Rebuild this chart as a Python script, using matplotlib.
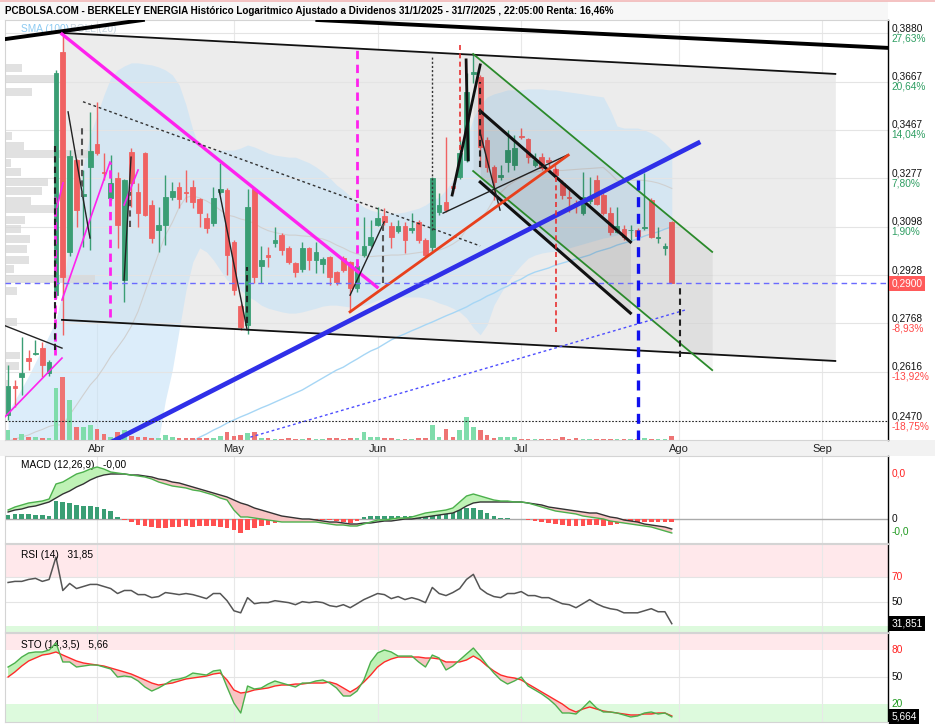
import numpy as np
import matplotlib
matplotlib.use('Agg')
import matplotlib.pyplot as plt
import matplotlib.transforms as mtrans
from matplotlib.patches import Rectangle
from matplotlib.lines import Line2D

plt.rcParams['font.family'] = ['Liberation Sans Narrow', 'Liberation Sans', 'DejaVu Sans']

# ---------------- datos (sesiones 13/3/2025 .. 31/7/2025) ----------------
open_p = [0.2487, 0.2573, 0.2600, 0.2658, 0.2670, 0.2689, 0.2612, 0.2860, 0.3797, 0.3009,
          0.3348, 0.3210, 0.3321, 0.3411, 0.3302, 0.3202, 0.3279, 0.2911, 0.3379, 0.3225,
          0.3375, 0.3177, 0.3086, 0.3104, 0.3206, 0.3244, 0.3225, 0.3244, 0.3199, 0.3129,
          0.3111, 0.3225, 0.3233, 0.3043, 0.2824, 0.2763, 0.3237, 0.2959, 0.2997, 0.3039,
          0.3068, 0.3022, 0.2969, 0.2948, 0.3022, 0.2980, 0.2966, 0.2990, 0.2938, 0.2986,
          0.2973, 0.2884, 0.2997, 0.3032, 0.3104, 0.3136, 0.3100, 0.3082, 0.3100, 0.3086,
          0.3115, 0.3050, 0.3025, 0.3151, 0.3188, 0.3248, 0.3282, 0.3348, 0.3701, 0.3686,
          0.3427, 0.3321, 0.3283, 0.3340, 0.3329, 0.3443, 0.3431, 0.3329, 0.3360, 0.3348,
          0.3313, 0.3260, 0.3206, 0.3184, 0.3147, 0.3192, 0.3271, 0.3214, 0.3147, 0.3079,
          0.3089, 0.3084, 0.3086, 0.3093, 0.3195, 0.3057, 0.3022, 0.3115]
high_p = [0.2637, 0.2591, 0.2725, 0.2683, 0.2715, 0.2708, 0.2652, 0.3720, 0.3870, 0.3387,
          0.3352, 0.3309, 0.3541, 0.3583, 0.3375, 0.3367, 0.3302, 0.3275, 0.3395, 0.3260,
          0.3380, 0.3195, 0.3169, 0.3290, 0.3263, 0.3263, 0.3309, 0.3271, 0.3203, 0.3147,
          0.3244, 0.3336, 0.3240, 0.3050, 0.2830, 0.3237, 0.3240, 0.3029, 0.3025, 0.3097,
          0.3075, 0.3030, 0.2973, 0.3043, 0.3025, 0.3043, 0.2990, 0.2993, 0.2942, 0.2995,
          0.2976, 0.2975, 0.3133, 0.3122, 0.3169, 0.3165, 0.3115, 0.3122, 0.3115, 0.3147,
          0.3122, 0.3057, 0.3283, 0.3221, 0.3439, 0.3260, 0.3427, 0.3707, 0.3784, 0.3697,
          0.3440, 0.3330, 0.3329, 0.3467, 0.3447, 0.3475, 0.3435, 0.3375, 0.3375, 0.3360,
          0.3329, 0.3271, 0.3233, 0.3195, 0.3302, 0.3283, 0.3290, 0.3220, 0.3169, 0.3169,
          0.3104, 0.3104, 0.3093, 0.3298, 0.3203, 0.3097, 0.3039, 0.3118]
low_p = [0.2473, 0.2510, 0.2546, 0.2621, 0.2668, 0.2600, 0.2603, 0.2850, 0.2731, 0.2994,
         0.3097, 0.3025, 0.3015, 0.3367, 0.3271, 0.3195, 0.3022, 0.2837, 0.3169, 0.3097,
         0.3135, 0.3039, 0.3008, 0.3032, 0.3195, 0.3165, 0.3188, 0.3165, 0.3097, 0.3075,
         0.3100, 0.3218, 0.2928, 0.2860, 0.2747, 0.2734, 0.2901, 0.2901, 0.2955, 0.3025,
         0.2997, 0.2965, 0.2921, 0.2938, 0.2945, 0.2935, 0.2935, 0.2894, 0.2894, 0.2938,
         0.2805, 0.2870, 0.2990, 0.3025, 0.3100, 0.3104, 0.3022, 0.3075, 0.3004, 0.3075,
         0.3039, 0.2990, 0.3004, 0.3140, 0.3151, 0.3221, 0.3275, 0.3340, 0.3660, 0.3321,
         0.3300, 0.3195, 0.3270, 0.3302, 0.3309, 0.3430, 0.3336, 0.3320, 0.3310, 0.3317,
         0.3280, 0.3200, 0.3151, 0.3147, 0.3140, 0.3180, 0.3177, 0.3140, 0.3068, 0.3075,
         0.3050, 0.3050, 0.3057, 0.3086, 0.3057, 0.3039, 0.2997, 0.2900]
close_p = [0.2573, 0.2567, 0.2612, 0.2649, 0.2675, 0.2637, 0.2646, 0.3705, 0.2921, 0.3363,
           0.3158, 0.3218, 0.3383, 0.3375, 0.3298, 0.3260, 0.3104, 0.3271, 0.3260, 0.3147,
           0.3140, 0.3057, 0.3104, 0.3206, 0.3229, 0.3199, 0.3222, 0.3188, 0.3147, 0.3093,
           0.3203, 0.3237, 0.2997, 0.2877, 0.2756, 0.3169, 0.2921, 0.2980, 0.2990, 0.3050,
           0.3015, 0.2973, 0.2938, 0.3022, 0.2980, 0.3008, 0.2983, 0.2921, 0.2904, 0.2945,
           0.2884, 0.2960, 0.3029, 0.3061, 0.3129, 0.3115, 0.3061, 0.3100, 0.3050, 0.3093,
           0.3050, 0.2997, 0.3279, 0.3177, 0.3158, 0.3240, 0.3375, 0.3625, 0.3708, 0.3399,
           0.3321, 0.3263, 0.3290, 0.3387, 0.3395, 0.3439, 0.3360, 0.3348, 0.3317, 0.3340,
           0.3290, 0.3214, 0.3203, 0.3177, 0.3206, 0.3199, 0.3181, 0.3147, 0.3079, 0.3100,
           0.3061, 0.3086, 0.3064, 0.3097, 0.3061, 0.3061, 0.3030, 0.2900]
# volumen (miles de titulos)
volume = [200, 40, 120, 60, 60, 40, 40, 1040, 1260, 800,
          260, 260, 300, 220, 120, 60, 160, 200, 80, 60,
          60, 40, 40, 100, 60, 40, 40, 40, 40, 40,
          40, 80, 160, 80, 100, 140, 160, 40, 40, 20,
          20, 40, 20, 20, 40, 20, 20, 40, 40, 20,
          40, 40, 160, 60, 60, 40, 40, 20, 20, 20,
          40, 40, 300, 60, 220, 60, 200, 460, 260, 200,
          100, 40, 60, 60, 60, 20, 20, 20, 20, 20,
          20, 60, 20, 40, 20, 20, 20, 20, 20, 20,
          20, 20, 20, 40, 20, 20, 20, 80]

boll_up = [0.2496, 0.2531, 0.2567, 0.2603, 0.2646, 0.2686, 0.2731, 0.2779, 0.2877, 0.3050,
           0.3195, 0.3329, 0.3447, 0.3528, 0.3611, 0.3684, 0.3718, 0.3736, 0.3749, 0.3749,
           0.3744, 0.3740, 0.3731, 0.3718, 0.3697, 0.3654, 0.3570, 0.3467, 0.3395, 0.3387,
           0.3387, 0.3387, 0.3387, 0.3387, 0.3395, 0.3407, 0.3399, 0.3387, 0.3375, 0.3367,
           0.3363, 0.3359, 0.3359, 0.3348, 0.3337, 0.3321, 0.3302, 0.3279, 0.3252, 0.3233,
           0.3210, 0.3188, 0.3169, 0.3158, 0.3151, 0.3147, 0.3147, 0.3147, 0.3151, 0.3158,
           0.3165, 0.3177, 0.3195, 0.3206, 0.3233, 0.3271, 0.3321, 0.3427, 0.3516, 0.3570,
           0.3603, 0.3616, 0.3624, 0.3633, 0.3633, 0.3633, 0.3637, 0.3637, 0.3637, 0.3633,
           0.3633, 0.3628, 0.3624, 0.3620, 0.3616, 0.3611, 0.3607, 0.3603, 0.3549, 0.3483,
           0.3475, 0.3475, 0.3475, 0.3467, 0.3455, 0.3439, 0.3415, 0.3387]
boll_low = [0.2333, 0.2311, 0.2290, 0.2269, 0.2248, 0.2227, 0.2206, 0.2176, 0.2101, 0.2029,
            0.1982, 0.1948, 0.1925, 0.1914, 0.1914, 0.1925, 0.1948, 0.1982, 0.2029, 0.2101,
            0.2201, 0.2306, 0.2416, 0.2531, 0.2621, 0.2747, 0.2877, 0.2973, 0.3022, 0.3008,
            0.2980, 0.2945, 0.2911, 0.2901, 0.2877, 0.2857, 0.2844, 0.2827, 0.2817, 0.2811,
            0.2805, 0.2801, 0.2801, 0.2805, 0.2811, 0.2817, 0.2824, 0.2827, 0.2827, 0.2824,
            0.2821, 0.2824, 0.2827, 0.2834, 0.2844, 0.2850, 0.2854, 0.2854, 0.2854, 0.2854,
            0.2854, 0.2850, 0.2844, 0.2834, 0.2827, 0.2817, 0.2805, 0.2785, 0.2753, 0.2731,
            0.2763, 0.2827, 0.2867, 0.2904, 0.2935, 0.2962, 0.2986, 0.2997, 0.3004, 0.3008,
            0.3011, 0.3015, 0.3022, 0.3029, 0.3036, 0.3043, 0.3050, 0.3057, 0.3061, 0.3068,
            0.3072, 0.3075, 0.3079, 0.3082, 0.3086, 0.3089, 0.3093, 0.3097]
sma100_first = 26
sma100 = [0.2402, 0.2413, 0.2424, 0.2433, 0.2444, 0.2453, 0.2464, 0.2473, 0.2482, 0.2490,
          0.2499, 0.2508, 0.2516, 0.2525, 0.2534, 0.2543, 0.2552, 0.2561, 0.2573, 0.2585,
          0.2597, 0.2609, 0.2621, 0.2630, 0.2643, 0.2655, 0.2668, 0.2680, 0.2689, 0.2702,
          0.2715, 0.2725, 0.2734, 0.2744, 0.2753, 0.2763, 0.2772, 0.2782, 0.2792, 0.2801,
          0.2811, 0.2821, 0.2834, 0.2844, 0.2857, 0.2867, 0.2880, 0.2890, 0.2904, 0.2914,
          0.2928, 0.2938, 0.2945, 0.2952, 0.2962, 0.2969, 0.2976, 0.2983, 0.2990, 0.2997,
          0.3008, 0.3015, 0.3022, 0.3032, 0.3039, 0.3046, 0.3054, 0.3064, 0.3072, 0.3079,
          0.3089, 0.3097]

# perfil de volumen por precio
vp_price = [0.3727, 0.3680, 0.3624, 0.3441, 0.3403, 0.3371, 0.3338, 0.3300, 0.3262, 0.3229,
            0.3191, 0.3162, 0.3122, 0.3088, 0.3052, 0.3017, 0.2981, 0.2947, 0.2914, 0.2874,
            0.2772, 0.2666, 0.2634, 0.2580]
vp_vol = [17, 50, 27, 7, 19, 88, 6, 16, 43, 37, 26, 52, 20, 16, 25, 22, 24, 9, 90, 12,
          12, 15, 14, 3]

macd = [0.0009, 0.0012, 0.0014, 0.0016, 0.0017, 0.0018, 0.0020, 0.0035, 0.0037, 0.0041,
        0.0045, 0.0047, 0.0050, 0.0052, 0.0050, 0.0047, 0.0046, 0.0045, 0.0044, 0.0043,
        0.0042, 0.0040, 0.0037, 0.0035, 0.0033, 0.0032, 0.0031, 0.0029, 0.0028, 0.0026,
        0.0024, 0.0021, 0.0019, 0.0009, 0.0002, 0.0002, 0.0001, 0.0000, -0.0001, -0.0002,
        -0.0003, -0.0003, -0.0003, -0.0003, -0.0003, -0.0003, -0.0004, -0.0005, -0.0006, -0.0006,
        -0.0007, -0.0007, -0.0005, -0.0003, -0.0001, -0.0001, 0.0000, 0.0001, 0.0001, 0.0002,
        0.0004, 0.0006, 0.0007, 0.0008, 0.0009, 0.0011, 0.0017, 0.0023, 0.0025, 0.0023,
        0.0021, 0.0019, 0.0018, 0.0018, 0.0017, 0.0017, 0.0016, 0.0014, 0.0012, 0.0010,
        0.0008, 0.0007, 0.0006, 0.0005, 0.0003, 0.0002, 0.0001, 0.0000, -0.0002, -0.0003,
        -0.0004, -0.0005, -0.0006, -0.0007, -0.0008, -0.0010, -0.0012, -0.0014]
macd_signal = [0.0007, 0.0009, 0.0010, 0.0012, 0.0013, 0.0015, 0.0017, 0.0021, 0.0025, 0.0028,
               0.0032, 0.0035, 0.0039, 0.0042, 0.0044, 0.0045, 0.0045, 0.0045, 0.0044, 0.0044,
               0.0043, 0.0042, 0.0040, 0.0039, 0.0037, 0.0036, 0.0034, 0.0032, 0.0030, 0.0028,
               0.0026, 0.0024, 0.0022, 0.0019, 0.0016, 0.0014, 0.0011, 0.0009, 0.0007, 0.0005,
               0.0003, 0.0002, 0.0001, 0.0000, 0.0000, -0.0001, -0.0002, -0.0003, -0.0003, -0.0004,
               -0.0005, -0.0005, -0.0004, -0.0004, -0.0003, -0.0002, -0.0002, -0.0001, 0.0000, 0.0000,
               0.0001, 0.0002, 0.0003, 0.0004, 0.0005, 0.0006, 0.0009, 0.0013, 0.0016, 0.0017,
               0.0017, 0.0017, 0.0017, 0.0017, 0.0017, 0.0017, 0.0016, 0.0015, 0.0014, 0.0012,
               0.0011, 0.0010, 0.0009, 0.0008, 0.0007, 0.0006, 0.0006, 0.0004, 0.0002, 0.0001,
               -0.0001, -0.0002, -0.0003, -0.0005, -0.0006, -0.0007, -0.0008, -0.0010]
macd_hist = [4, 5, 5, 5, 4, 4, 3, 18, 17, 16,
             14, 13, 13, 12, 10, 8, 2, -1, -3, -6,
             -7, -8, -9, -9, -8, -8, -7, -8, -7, -7,
             -7, -8, -9, -11, -14, -11, -9, -7, -6, -4,
             -3, -2, -2, -1, -1, -1, -1, -1, -2, -3,
             -4, -2, 2, 3, 3, 3, 3, 3, 3, 3,
             3, 3, 4, 5, 6, 8, 10, 11, 11, 9,
             6, 3, 1, 1, 0, 0, -1, -2, -3, -4,
             -5, -6, -7, -7, -7, -6, -6, -7, -6, -5,
             -4, -4, -3, -3, -3, -3, -3, -3]   # x 1e-4

rsi = [65.8, 66.7, 66.7, 68.3, 69.2, 66.7, 68.3, 86.7, 59.2, 65.0,
       60.8, 62.5, 64.2, 64.2, 62.5, 60.8, 56.7, 59.2, 59.2, 55.8,
       55.8, 53.3, 54.2, 57.5, 56.7, 55.8, 56.7, 55.8, 54.2, 52.5,
       56.7, 56.7, 50.8, 42.5, 40.8, 53.3, 48.3, 49.2, 49.2, 50.8,
       50.0, 49.2, 47.5, 50.0, 49.2, 50.0, 49.2, 46.7, 45.8, 47.5,
       45.0, 48.3, 51.7, 54.2, 56.7, 55.8, 52.5, 54.2, 51.7, 53.3,
       51.7, 49.2, 61.7, 56.7, 55.0, 57.5, 60.8, 68.3, 72.5, 60.8,
       56.7, 54.2, 53.3, 56.7, 56.7, 58.3, 55.0, 55.0, 53.3, 53.3,
       50.8, 48.3, 47.5, 45.0, 48.3, 51.7, 48.3, 45.8, 44.2, 43.3,
       40.8, 40.8, 40.8, 42.5, 44.2, 41.7, 41.7, 31.851]
sto_k = [61.1, 65.6, 72.2, 76.7, 77.8, 77.8, 80.0, 87.8, 66.7, 66.7,
         61.1, 62.2, 63.3, 63.3, 61.1, 58.9, 50.0, 51.1, 50.0, 45.6,
         38.9, 34.4, 37.8, 42.2, 46.7, 47.8, 50.0, 54.4, 53.3, 52.2,
         56.7, 57.8, 38.9, 21.1, 10.0, 40.0, 36.7, 37.8, 42.2, 45.6,
         43.3, 41.1, 38.9, 43.3, 43.3, 45.6, 46.7, 43.3, 37.8, 28.9,
         28.9, 34.4, 46.7, 66.7, 76.7, 80.0, 77.8, 73.3, 73.3, 73.3,
         66.7, 61.1, 74.4, 71.1, 57.8, 62.2, 68.9, 75.6, 82.2, 73.3,
         63.3, 54.4, 46.7, 42.2, 45.6, 50.0, 40.0, 35.6, 31.1, 25.6,
         18.9, 10.0, 10.0, 8.9, 15.6, 23.3, 15.6, 11.1, 11.1, 10.0,
         7.8, 5.6, 6.7, 10.0, 11.1, 8.9, 10.0, 5.664]
sto_d = [50.0, 55.6, 62.2, 67.8, 71.1, 74.4, 75.6, 77.8, 74.4, 71.1,
         67.8, 65.6, 64.4, 63.3, 62.2, 60.0, 57.8, 55.6, 53.3, 50.0,
         46.7, 43.3, 41.1, 42.2, 43.3, 45.6, 47.8, 48.9, 50.0, 51.1,
         53.3, 54.4, 46.7, 35.6, 32.2, 33.3, 35.6, 36.7, 37.8, 40.0,
         41.1, 41.1, 42.2, 42.2, 43.3, 43.3, 43.3, 44.4, 42.2, 37.8,
         33.3, 37.8, 44.4, 52.2, 61.1, 66.7, 70.0, 72.2, 72.2, 72.2,
         72.2, 71.1, 71.1, 70.0, 66.7, 66.7, 66.7, 68.9, 73.3, 68.9,
         62.2, 56.7, 52.2, 50.0, 48.9, 46.7, 42.2, 37.8, 33.3, 28.9,
         24.4, 20.0, 14.4, 11.1, 14.4, 16.7, 14.4, 12.2, 11.1, 10.0,
         8.9, 7.8, 7.8, 8.9, 8.9, 10.0, 10.0, 6.7]

months = ['Abr', 'May', 'Jun', 'Jul', 'Ago', 'Sep']
month_idx = [13, 33, 54, 75, 98, 119]

price_ticks = [0.3880, 0.3667, 0.3467, 0.3277, 0.3098, 0.2928, 0.2768, 0.2616]
price_pcts = [27.63, 20.64, 14.04, 7.80, 1.90, -3.68, -8.93, -13.92]
last_price = 0.2900
level_price, level_pct = 0.2470, -18.75

# lineas dibujadas: (sesion, precio) -> (sesion, precio)
thick_black = [(-1.2, 0.3851, 19.7, 0.3941), (45.2, 0.3941, 128.6, 0.3815)]
channel_top = (7.88, 0.3882, 120.9, 0.3701)
channel_bot = (7.88, 0.2779, 120.9, 0.2649)
down_top = (69.0, 0.3545, 90.95, 0.3043)
down_bot = (69.0, 0.3263, 90.95, 0.2801)
green_top = (67.97, 0.3788, 102.9, 0.3008)
green_bot = (67.97, 0.3305, 102.9, 0.2621)
magenta_thick = [(7.88, 0.3877, 53.93, 0.2887)]
magenta_thin = [(-0.45, 0.2482, 7.88, 0.2658), (7.88, 0.2844, 14.9, 0.3340),
                (7.15, 0.3169, 8.03, 0.3260), (16.95, 0.3177, 19.0, 0.3309)]
black_thin = [(8.77, 0.3541, 11.97, 0.3057), (16.95, 0.2911, 17.97, 0.3359),
              (30.83, 0.3233, 34.93, 0.2747), (49.98, 0.2860, 54.96, 0.3115),
              (63.58, 0.3147, 81.71, 0.3367), (69.0, 0.3455, 71.9, 0.3158),
              (-0.45, 0.2760, 7.88, 0.2689)]
black_mid = [(64.9, 0.3214, 69.0, 0.3740), (66.94, 0.3762, 67.24, 0.3348)]
black_dotted = [(10.95, 0.3583, 68.99, 0.3029)]
red_line = [(49.98, 0.2805, 81.86, 0.3367)]
blue_thick = [(13.44, 0.2394, 100.86, 0.3415)]
blue_dotted = [(35.4, 0.2424, 98.96, 0.2811)]
# verticales: (sesion, precio bajo, precio alto)
vert_magenta = [(6.85, 0.2668, 0.3206), (14.9, 0.2789, 0.3340), (51.0, 0.2955, 0.3806)]
vert_black = [(6.85, 0.2683, 0.3403), (69.0, 0.3321, 0.3667), (98.2, 0.2662, 0.2884),
              (34.9, 0.2768, 0.2955)]
vert_gray = [(10.8, 0.3206, 0.3479), (17.8, 0.3097, 0.3225), (54.8, 0.2901, 0.3115)]
vert_dotted = [(62.0, 0.3086, 0.3775)]
vert_red = [(66.1, 0.3387, 0.3828), (80.1, 0.2740, 0.3321)]
vert_blue = [(92.1, 0.2416, 0.3298)]

# ---------------- figura ----------------
W, H = 935, 726
GREEN, RED = '#3a9e74', '#f06262'
VGREEN, VRED = '#7fdcab', '#ee7474'
FS = 7.3


def frect(x0, y0, x1, y1):
    return [x0 / W, 1 - y1 / H, (x1 - x0) / W, (y1 - y0) / H]


fig = plt.figure(figsize=(W / 100, H / 100), dpi=100)
fig.add_artist(Rectangle((0, 1 - 20 / H), 888 / W, 19 / H, transform=fig.transFigure,
                         fc='#f7f7f7', ec='none', zorder=-2))
fig.add_artist(Line2D([0, 1], [1 - 1 / H] * 2, transform=fig.transFigure,
                      color='#f2b8b8', lw=1.2, zorder=-1))
fig.add_artist(Rectangle((0, 1 - 456 / H), 1, 16 / H, transform=fig.transFigure,
                         fc='#f2f2f2', ec='none', zorder=-2))

n = len(close_p)
idx = np.arange(n)
o, hi, lo, c = map(np.array, (open_p, high_p, low_p, close_p))
up = c >= o
XMIN, XMAX = -0.45, 128.6


def style_panel(a):
    a.set_xlim(XMIN, XMAX)
    for s in a.spines.values():
        s.set_color('#d4d4d4')
        s.set_linewidth(0.8)
    a.spines['right'].set_color('black')
    a.spines['right'].set_linewidth(1)
    a.tick_params(left=False, right=False, bottom=False, labelleft=False,
                  labelbottom=False)
    for m in month_idx:
        a.axvline(m, color='#e8e8e8', lw=0.8, zorder=0.5)


# ---- panel principal ----
ax = fig.add_axes(frect(5, 20, 888, 440))
ax.set_yscale('log')
ax.set_ylim(0.2416, 0.3941)
style_panel(ax)
ax.yaxis.set_major_locator(plt.NullLocator())
ax.yaxis.set_minor_locator(plt.NullLocator())
ax.set_xticks(month_idx)
ax.set_xticklabels(months)
ax.tick_params(axis='x', length=0, pad=3, labelsize=8, labelbottom=True, colors='#222222')

for p in price_ticks:
    ax.axhline(p, color='#e4e4e4', lw=0.8, zorder=1.6)


def seg(a, lines, **kw):
    for x0, y0, x1, y1 in lines:
        a.plot([x0, x1], [y0, y1], **kw)


# canal principal
ax.fill_between([channel_top[0], channel_top[2]], [channel_bot[1], channel_bot[3]],
                [channel_top[1], channel_top[3]], color='#ececec', lw=0, zorder=1)
seg(ax, [channel_top, channel_bot], color='#111111', lw=1.3, zorder=6)

# bandas de bollinger y media 100
ax.fill_between(idx, boll_low, boll_up, color='#c6e2f7', alpha=0.6, lw=0, zorder=1.5)
boll_mid = np.sqrt(np.array(boll_low) * np.array(boll_up))
ax.plot(idx, boll_mid, color='#d0d0d0', lw=0.8, zorder=1.7)
ax.plot(np.arange(sma100_first, sma100_first + len(sma100)), sma100, color='#a6d6f5',
        lw=1, zorder=1.8)

# perfil de volumen
ax.barh(vp_price, np.array(vp_vol) / 6.84, height=np.array(vp_price) * 0.0093, left=XMIN,
        color='#d8d8d8', alpha=0.75, lw=0, zorder=1.9)

# volumen
vtr = ax.get_xaxis_transform()
vmax = 8400
for i in range(n):
    ax.add_patch(Rectangle((i - 0.34, 0), 0.68, volume[i] / vmax, transform=vtr,
                           fc=VGREEN if up[i] else VRED, ec='none', zorder=2))

# velas
col = np.where(up, GREEN, RED)
ax.vlines(idx, lo, hi, colors=col, lw=1, zorder=4)
ax.bar(idx, np.abs(c - o), bottom=np.minimum(o, c), width=0.68, color=col,
       edgecolor=col, lw=0.6, zorder=4.1)

# canal bajista y canal verde
ax.fill_between([down_top[0], down_top[2]], [down_bot[1], down_bot[3]],
                [down_top[1], down_top[3]], color='black', alpha=0.07, lw=0, zorder=5)
ax.fill_between([green_top[0], green_top[2]], [green_bot[1], green_bot[3]],
                [green_top[1], green_top[3]], color='black', alpha=0.05, lw=0, zorder=5)
seg(ax, [down_top, down_bot], color='#111111', lw=2.2, zorder=6)
seg(ax, [green_top, green_bot], color='#2b8a2b', lw=1.3, zorder=6)

seg(ax, thick_black, color='black', lw=2.8, zorder=6)
seg(ax, magenta_thick, color='#ff22ee', lw=2.4, zorder=6)
seg(ax, magenta_thin, color='#ff22ee', lw=1.2, zorder=6)
seg(ax, black_thin, color='#222222', lw=1, zorder=6)
seg(ax, black_mid, color='#111111', lw=2, zorder=6)
seg(ax, black_dotted, color='#333333', lw=1, ls=(0, (2, 2)), zorder=6)
seg(ax, red_line, color='#e8401c', lw=2, zorder=6)
seg(ax, blue_thick, color='#2f2fe8', lw=3.4, zorder=6)
seg(ax, blue_dotted, color='#4d4dff', lw=1, ls=(0, (2, 2)), zorder=6)

for x, y0, y1 in vert_magenta:
    ax.plot([x, x], [y0, y1], color='#ff22ee', lw=2, ls=(0, (3, 2)), zorder=6.5)
for x, y0, y1 in vert_black:
    ax.plot([x, x], [y0, y1], color='#222222', lw=1.5, ls=(0, (3, 2)), zorder=6.6)
for x, y0, y1 in vert_gray:
    ax.plot([x, x], [y0, y1], color='#555555', lw=1.5, ls=(0, (3, 2)), zorder=6.5)
for x, y0, y1 in vert_dotted:
    ax.plot([x, x], [y0, y1], color='#333333', lw=1, ls=(0, (1.5, 1.5)), zorder=6.5)
for x, y0, y1 in vert_red:
    ax.plot([x, x], [y0, y1], color='#e83030', lw=1.2, ls=(0, (3, 2)), zorder=6.5)
for x, y0, y1 in vert_blue:
    ax.plot([x, x], [y0, y1], color='#1010ee', lw=2.4, ls=(0, (3, 2)), zorder=6.5)

ax.axhline(last_price, color='#6a6aff', lw=1, ls=(0, (4, 3)), zorder=6)
ax.axhline(level_price, color='#222222', lw=0.8, ls=(0, (1.5, 1.5)), zorder=6)

# etiquetas de precio a la derecha
tr = mtrans.blended_transform_factory(ax.transAxes, ax.transData)
for p, pct in list(zip(price_ticks, price_pcts)) + [(level_price, level_pct)]:
    ax.text(1.004, p, f'{p:.4f}'.replace('.', ','), transform=tr, fontsize=FS,
            va='bottom', ha='left', color='#111111')
    if abs(p - last_price) / p > 0.015:   # la de 0,2928 queda tapada por la etiqueta del ultimo
        ax.text(1.004, p, f'{pct:.2f}%'.replace('.', ','), transform=tr, fontsize=FS,
                va='top', ha='left', color='#2e9e62' if pct > 0 else '#ff4646')
ax.text(1.004, last_price, f'{last_price:.4f}'.replace('.', ','), transform=tr,
        fontsize=FS, va='center', ha='left', color='white',
        bbox=dict(boxstyle='square,pad=0.25', fc='#ff5a5a', ec='none'))

ax.text(0.018, 0.99, 'SMA (100)', transform=ax.transAxes, fontsize=FS, color='#8ecbf2',
        va='top')
ax.text(0.074, 0.99, 'BOLL (20)', transform=ax.transAxes, fontsize=FS, color='#c8d6e0',
        va='top')

fig.text(5 / W, 1 - 11 / H,
         'PCBOLSA.COM - BERKELEY ENERGIA Histórico Logaritmico Ajustado a Dividenos '
         '31/1/2025 - 31/7/2025 , 22:05:00 Renta: 16,46%',
         fontsize=7.1, fontweight='bold', va='center', ha='left')

# ---- MACD ----
axm = fig.add_axes(frect(5, 456, 888, 543))
style_panel(axm)
axm.set_ylim(-0.0024, 0.0063)
axm.set_yticks([])
hist = np.array(macd_hist) * 1e-4
axm.bar(idx, hist, width=0.68, color=np.where(hist >= 0, GREEN, '#ff5050'), lw=0, zorder=2)
axm.axhline(0, color='#aaaaaa', lw=1, zorder=1)
mc, ms = np.array(macd), np.array(macd_signal)
axm.fill_between(idx, mc, ms, where=mc >= ms, interpolate=True, color='#bff2b6', lw=0, zorder=2.5)
axm.fill_between(idx, mc, ms, where=mc < ms, interpolate=True, color='#f8c4c4', lw=0, zorder=2.5)
axm.plot(idx, ms, color='#333333', lw=1, zorder=3)
axm.plot(idx, mc, color='#4cb04c', lw=1, zorder=3.1)
trm = mtrans.blended_transform_factory(axm.transAxes, axm.transData)
axm.text(1.004, 0.0046, '0,0', transform=trm, fontsize=FS, color='#ff2020', va='center')
axm.text(1.004, 0.0, '0', transform=trm, fontsize=FS, color='#111111', va='center')
axm.text(1.004, -0.0013, '-0,0', transform=trm, fontsize=FS, color='#1f9a1f', va='center')
axm.text(0.018, 0.9, 'MACD (12,26,9)   -0,00', transform=axm.transAxes, fontsize=FS,
         va='center')

# ---- RSI ----
axr = fig.add_axes(frect(5, 544, 888, 632))
style_panel(axr)
axr.set_ylim(25, 97.5)
axr.set_yticks([])
axr.axhspan(70, 100, color='#ffe8eb', lw=0, zorder=0.2)
axr.axhspan(0, 30, color='#ddfadd', lw=0, zorder=0.2)
axr.axhline(50, color='#e4e4e4', lw=0.8, zorder=0.6)
axr.axhline(70, color='#e4e4e4', lw=0.8, zorder=0.6)
axr.plot(idx, rsi, color='#555555', lw=1.1, zorder=3)
trr = mtrans.blended_transform_factory(axr.transAxes, axr.transData)
axr.text(1.004, 70, '70', transform=trr, fontsize=FS, color='#ff2020', va='center')
axr.text(1.004, 50, '50', transform=trr, fontsize=FS, color='#111111', va='center')
axr.text(1.004, rsi[-1], f'{rsi[-1]:.3f}'.replace('.', ','), transform=trr, fontsize=FS,
         color='white', va='center', bbox=dict(boxstyle='square,pad=0.25', fc='black', ec='none'))
axr.text(0.018, 0.87, f'RSI (14)   {rsi[-1]:.2f}'.replace('.', ','), transform=axr.transAxes,
         fontsize=FS, va='center')

# ---- Estocastico ----
axs = fig.add_axes(frect(5, 633, 888, 722))
style_panel(axs)
axs.set_ylim(0, 98.9)
axs.set_yticks([])
axs.axhspan(80, 100, color='#ffe8eb', lw=0, zorder=0.2)
axs.axhspan(0, 20, color='#ddfadd', lw=0, zorder=0.2)
axs.axhline(50, color='#e4e4e4', lw=0.8, zorder=0.6)
k, d = np.array(sto_k), np.array(sto_d)
axs.fill_between(idx, k, d, where=k >= d, interpolate=True, color='#bff2b6', lw=0, zorder=2)
axs.fill_between(idx, k, d, where=k < d, interpolate=True, color='#f8c4c4', lw=0, zorder=2)
axs.plot(idx, d, color='#ff2a2a', lw=1, zorder=3)
axs.plot(idx, k, color='#4cb04c', lw=1, zorder=3.1)
trs = mtrans.blended_transform_factory(axs.transAxes, axs.transData)
axs.text(1.004, 80, '80', transform=trs, fontsize=FS, color='#ff2020', va='center')
axs.text(1.004, 50, '50', transform=trs, fontsize=FS, color='#111111', va='center')
axs.text(1.004, 20, '20', transform=trs, fontsize=FS, color='#1f9a1f', va='center')
axs.text(1.004, k[-1], f'{k[-1]:.3f}'.replace('.', ','), transform=trs, fontsize=FS,
         color='white', va='center', bbox=dict(boxstyle='square,pad=0.25', fc='black', ec='none'))
axs.text(0.018, 0.87, f'STO (14,3,5)   {k[-1]:.2f}'.replace('.', ','), transform=axs.transAxes,
         fontsize=FS, va='center')

fig.savefig('out.png', dpi=100)
